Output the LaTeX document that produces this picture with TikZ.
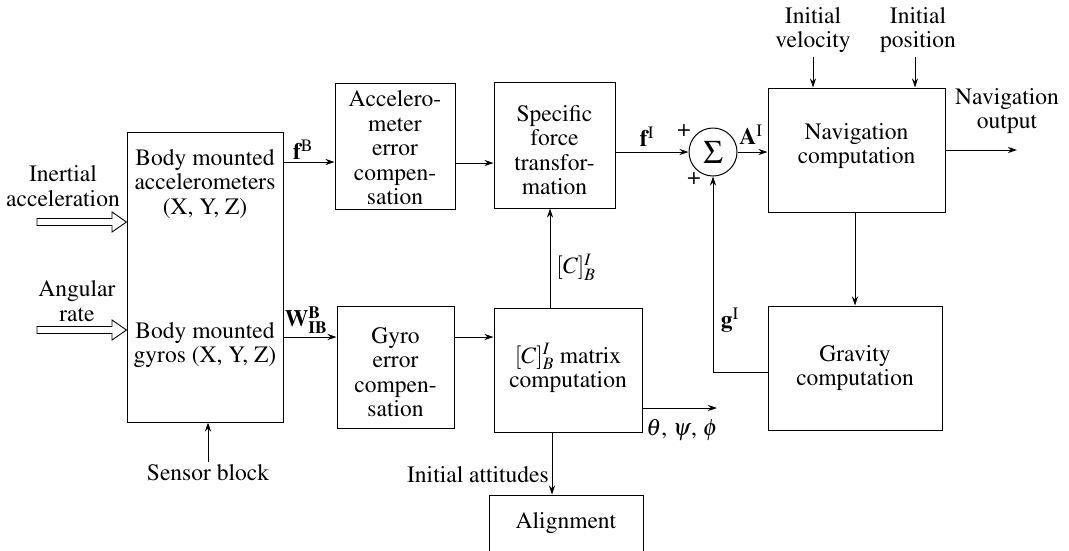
\documentclass[tikz,border=0pt]{standalone}
\usepackage[T1]{fontenc}
\usepackage{mathptmx}
\usetikzlibrary{arrows.meta,calc}
\begin{document}
\begin{tikzpicture}[x=1pt,y=-1pt,
  box/.style={draw,line width=1pt,inner sep=0pt},
  txt/.style={font=\fontsize{23.5}{24.5}\selectfont,align=center,inner sep=0pt},
  conn/.style={line width=0.9pt,-{Stealth[length=9pt,width=6pt]}},
  ln/.style={line width=0.9pt},
  hollow/.style={line width=0.9pt,line join=miter}]
\useasboundingbox (0,0) rectangle (1069,550);

% boxes
\node[box,minimum width=156pt,minimum height=290pt] (sensor) at (205,277) {};
\node[box,minimum width=120pt,minimum height=126pt] (acc) at (395,146) {};
\node[box,minimum width=121pt,minimum height=126pt] (spec) at (554.5,145) {};
\node[box,circle,minimum size=48pt] (sum) at (713,152) {};
\node[box,minimum width=177pt,minimum height=124pt] (nav) at (856.5,150) {};
\node[box,minimum width=174pt,minimum height=124pt] (grav) at (855,368) {};
\node[box,minimum width=117pt,minimum height=122pt] (gyro) at (395.5,367) {};
\node[box,minimum width=148pt,minimum height=124pt] (mat) at (568,370) {};
\node[box,minimum width=154pt,minimum height=90pt] (align) at (566,540) {};

% texts in boxes
\node[txt] (sacc) at (205,184) {Body mounted\\accelerometers\\(X, Y, Z)};
\node[txt] (sgyr) at (205,345) {Body mounted\\gyros (X, Y, Z)};
\node[txt] (tacc) at (395,148) {Accelero-\\meter\\error\\compen-\\sation};
\node[txt] (tspec) at (554.5,150) {Specific\\force\\transfor-\\mation};
\node[txt] (tsum) at (713,152) {\scalebox{1.4}{$\Sigma$}};
\node[txt] (tnav) at (856.5,146) {Navigation\\computation};
\node[txt] (tgrav) at (855,368) {Gravity\\computation};
\node[txt] (tgyro) at (395.5,372) {Gyro\\error\\compen-\\sation};
\node[txt] (tmat) at (568,368) {$[C]_B^I$ matrix\\computation};
\node[txt] (talign) at (566,523) {Alignment};

% outside labels
\node[txt] (lin) at (63,186) {Inertial\\acceleration};
\node[txt] (lang) at (77,301) {Angular\\rate};
\node[txt] (lsb) at (208,473) {Sensor block};
\node[txt] (liv) at (813,30) {Initial\\velocity};
\node[txt] (lip) at (918,30) {Initial\\position};
\node[txt] (lno) at (1007,111) {Navigation\\output};
\node[txt] (lfb) at (303,150) {\textbf{f}\textsuperscript{B}};
\node[txt] (lfi) at (647,137) {\textbf{f}\textsuperscript{I}};
\node[txt] (lai) at (751,135) {\textbf{A}\textsuperscript{I}};
\node[txt] (lp1) at (684,131) {+};
\node[txt] (lp2) at (694,179) {+};
\node[txt] (lgi) at (730,320) {\textbf{g}\textsuperscript{I}};
\node[txt] (lw) at (306,320) {$\mathbf{W}^{\mathbf{B}}_{\mathbf{IB}}$};
\node[txt] (lc) at (576,267) {$[C]_B^I$};
\node[txt] (lth) at (682,430) {$\theta$, $\psi$, $\phi$};
\node[txt,anchor=east] (lia) at (549,475) {Initial attitudes};

% helper coordinates
\coordinate (yfb) at (0,162);
\coordinate (yacc) at (0,163);
\coordinate (yw) at (0,337);
\coordinate (ygrav) at (0,372);
\coordinate (yout) at (0,150);
\coordinate (xc) at (550,0);
\coordinate (xal) at (552,0);
\coordinate (yth) at (0,408);
\coordinate (outend) at (1017,150);
\coordinate (thend) at (717,408);
\coordinate (sbstart) at (208,462);
\coordinate (ivstart) at (813,57);
\coordinate (ipstart) at (915,57);

% connectors
\draw[conn] (sensor.east |- yfb) -- (acc.west |- yfb);
\draw[conn] (acc.east |- yacc) -- (spec.west |- yacc);
\draw[conn] (spec.east |- sum.west) -- (sum.west);
\draw[conn] (sum.east) -- (nav.west |- sum.east);
\draw[conn] (nav.east |- yout) -- (outend);
\draw[conn] (ivstart) -- (nav.north -| ivstart);
\draw[conn] (ipstart) -- (nav.north -| ipstart);
\draw[conn] (nav.south -| grav.north) -- (grav.north);
\draw[conn] (grav.west |- ygrav) -| (sum.south);
\draw[conn] (sensor.east |- yw) -- (gyro.west |- yw);
\draw[conn] (gyro.east |- yw) -- (mat.west |- yw);
\draw[conn] (mat.north -| xc) -- (spec.south -| xc);
\draw[conn] (mat.east |- yth) -- (thend);
\draw[conn] (mat.south -| xal) -- (align.north -| xal);
\draw[conn] (sbstart) -- (sensor.south -| sbstart);

% hollow input arrows
\draw[hollow] (37,218.5) -- (112,218.5) -- (112,212) -- (sensor.west |- 0,222) -- (112,232) -- (112,225.5) -- (37,225.5) -- cycle;
\draw[hollow] (37,326.5) -- (112,326.5) -- (112,320) -- (sensor.west |- 0,330) -- (112,340) -- (112,333.5) -- (37,333.5) -- cycle;
\end{tikzpicture}
\end{document}
